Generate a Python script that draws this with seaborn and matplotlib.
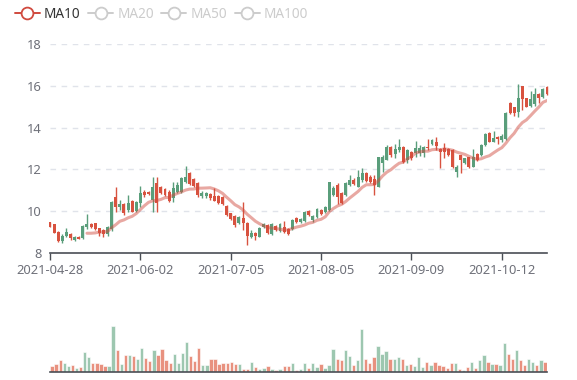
import numpy as np
import pandas as pd
import matplotlib
matplotlib.use('Agg')
import matplotlib.pyplot as plt
import seaborn as sns
from matplotlib.lines import Line2D

# ── DATA ──────────────────────────────────────────────────────
open_ = [9.46, 9.36, 9.01, 8.58, 8.80, 8.88, 8.61, 8.77, 8.69, 9.22,
         9.38, 9.41, 9.17, 9.09, 8.90, 9.12, 10.65, 10.21, 10.34, 10.05,
         10.50, 9.99, 10.37, 10.93, 10.93, 10.53, 11.33, 11.14, 11.05, 10.93,
         10.61, 10.93, 10.93, 11.41, 11.84, 11.52, 11.36, 10.72, 10.72, 10.82,
         10.72, 10.72, 10.69, 10.24, 9.89, 9.76, 9.44, 9.65, 9.44, 8.74,
         8.96, 8.77, 9.22, 9.33, 8.90, 9.28, 9.06, 9.25, 9.12, 9.12,
         9.65, 9.46, 9.54, 10.00, 9.57, 9.70, 10.05, 9.97, 10.05, 10.77,
         11.25, 10.85, 10.77, 11.25, 11.49, 11.17, 11.49, 11.84, 11.65, 11.52,
         11.17, 12.29, 12.45, 13.09, 12.74, 12.93, 13.09, 12.45, 12.85, 12.77,
         12.80, 12.77, 13.09, 13.22, 13.33, 12.98, 13.01, 12.98, 12.93, 11.89,
         12.69, 12.29, 12.58, 12.13, 12.74, 12.69, 13.17, 13.76, 13.33, 13.57,
         13.41, 13.44, 15.20, 14.98, 14.77, 16.00, 15.41, 15.04, 15.12, 15.62,
         15.46, 15.97]
close = [9.25, 8.96, 8.56, 8.80, 9.00, 8.69, 8.74, 8.68, 9.28, 9.38,
         9.25, 9.12, 8.93, 8.90, 9.22, 10.45, 10.21, 10.34, 9.92, 10.40,
         9.97, 10.45, 10.85, 10.77, 10.82, 11.17, 10.37, 10.85, 10.77, 10.50,
         11.09, 11.25, 11.57, 11.65, 11.30, 11.20, 10.77, 10.88, 10.85, 10.61,
         10.50, 10.37, 10.34, 9.81, 9.60, 9.33, 9.70, 9.41, 8.80, 8.96,
         8.80, 9.17, 9.38, 8.93, 9.36, 9.09, 9.38, 9.01, 8.90, 9.57,
         9.49, 9.60, 9.97, 9.79, 9.76, 10.08, 9.86, 10.18, 11.41, 11.09,
         10.69, 10.37, 11.36, 11.49, 11.30, 11.65, 11.81, 11.44, 11.41, 11.25,
         12.58, 12.61, 13.09, 12.69, 12.96, 13.09, 12.37, 12.93, 12.53, 13.01,
         13.01, 13.09, 13.01, 13.41, 13.12, 12.85, 12.85, 12.69, 12.13, 12.13,
         12.45, 12.53, 12.10, 12.58, 12.45, 13.17, 13.70, 13.33, 13.49, 13.44,
         13.60, 14.72, 14.69, 14.69, 15.41, 15.36, 15.01, 15.36, 15.60, 15.44,
         15.86, 15.60]
low = [9.22, 8.93, 8.50, 8.45, 8.77, 8.61, 8.58, 8.64, 8.66, 9.14,
       9.17, 9.09, 8.80, 8.74, 8.80, 9.05, 9.97, 10.05, 9.81, 9.97,
       9.93, 9.95, 10.21, 10.69, 10.77, 9.97, 9.97, 10.80, 10.72, 10.45,
       10.45, 10.85, 10.85, 11.33, 11.25, 11.15, 10.69, 10.61, 10.61, 10.53,
       10.48, 10.33, 10.29, 9.76, 9.55, 9.25, 9.38, 9.09, 8.37, 8.69,
       8.61, 8.74, 9.17, 8.88, 8.85, 9.04, 9.01, 8.93, 8.85, 9.09,
       9.41, 9.41, 9.49, 9.76, 9.49, 9.65, 9.81, 9.92, 10.02, 10.72,
       10.34, 10.33, 10.72, 11.20, 11.25, 11.14, 11.41, 11.41, 11.33, 10.77,
       11.14, 11.89, 12.45, 12.61, 12.53, 12.85, 12.29, 12.29, 12.45, 12.61,
       12.64, 12.61, 12.93, 13.17, 12.93, 12.05, 12.53, 12.64, 12.05, 11.65,
       11.84, 12.25, 12.05, 12.10, 12.40, 12.66, 13.10, 13.30, 13.30, 13.20,
       13.33, 13.41, 14.66, 14.56, 14.50, 14.85, 14.98, 15.01, 15.06, 15.17,
       15.44, 15.57]
high = [9.49, 9.40, 9.03, 8.88, 9.17, 8.96, 8.80, 8.82, 9.33, 9.84,
        9.41, 9.44, 9.20, 9.12, 9.28, 10.47, 11.17, 10.53, 10.37, 10.77,
        10.55, 10.50, 11.20, 11.01, 10.98, 11.65, 11.65, 11.20, 11.10, 11.01,
        11.41, 11.37, 11.65, 12.16, 11.89, 11.57, 11.41, 10.96, 10.93, 10.88,
        11.12, 10.75, 10.72, 10.29, 9.92, 9.80, 9.76, 10.45, 9.49, 9.09,
        9.01, 9.25, 9.41, 9.38, 9.41, 9.33, 9.44, 9.54, 9.17, 9.62,
        9.70, 9.68, 10.00, 10.05, 9.81, 10.13, 10.08, 10.24, 11.41, 11.20,
        11.33, 10.90, 11.41, 11.73, 11.57, 11.97, 12.05, 11.89, 11.73, 11.73,
        12.61, 12.69, 13.17, 13.12, 13.22, 13.44, 13.12, 12.96, 12.90, 13.36,
        13.17, 13.12, 13.44, 13.44, 13.57, 13.01, 13.28, 13.04, 12.98, 12.21,
        12.69, 12.56, 12.61, 12.96, 12.77, 13.20, 13.73, 13.78, 13.86, 13.60,
        13.68, 14.77, 15.23, 15.01, 16.10, 16.02, 15.44, 15.76, 15.90, 15.65,
        15.92, 16.02]
volume = [19, 25, 37, 27, 20, 22, 14, 15, 62, 45, 27, 28, 24, 19, 20, 140,
          67, 26, 52, 52, 49, 39, 72, 42, 34, 67, 52, 69, 37, 29, 55, 29,
          59, 92, 49, 34, 72, 22, 22, 41, 41, 25, 29, 29, 31, 24, 24, 10,
          11, 30, 17, 10, 12, 19, 9, 7, 10, 19, 19, 27, 7, 10,
          29, 13, 29, 16, 26, 12, 21, 71, 40, 36, 67, 50, 21, 36, 131,
          41, 28, 45, 78, 56, 63, 40, 40, 47, 41, 22, 26, 18, 47, 15, 31,
          23, 30, 21, 18, 14, 29, 29, 11, 7, 16, 32, 13, 38, 51, 31, 26,
          26, 22, 89, 56, 41, 66, 36, 23, 41, 31, 21, 38, 31]
tick_pos = [0, 22, 44, 66, 88, 110]
tick_labels = ['2021-04-28', '2021-06-02', '2021-07-05', '2021-08-05',
               '2021-09-09', '2021-10-12']
legend_names = ['MA10', 'MA20', 'MA50', 'MA100']

# ── STYLE ─────────────────────────────────────────────────────
UP, DOWN = '#5a9e7b', '#d8523f'
UP_VOL, DOWN_VOL = '#9dc7b0', '#e8917f'
MA_COLOR = '#d04a3e'
AXIS_COLOR = '#4a4e55'
LABEL_COLOR = '#6e7079'

sns.set_theme(style='white')
plt.rcParams['font.family'] = ['Noto Sans', 'DejaVu Sans']

df = pd.DataFrame({'open': open_, 'close': close, 'low': low,
                   'high': high, 'volume': volume})
df['idx'] = np.arange(len(df))
df['ma10'] = df['close'].rolling(10).mean()
is_up = df['close'] >= df['open']
candle_colors = np.where(is_up, UP, DOWN)
vol_colors = np.where(is_up, UP_VOL, DOWN_VOL)

W, H = 577, 380
fig = plt.figure(figsize=(W / 100, H / 100), dpi=100)
ax = fig.add_axes([50 / W, 1 - 252.7 / H, 497 / W, (252.7 - 44.3) / H])
axv = fig.add_axes([50 / W, 1 - 372.3 / H, 497 / W, 72.3 / H])

# ── CANDLES + MA10 ────────────────────────────────────────────
for y in [10, 12, 14, 16, 18]:
    ax.axhline(y, color='#e0e3ea', lw=1, ls=(0, (4, 4)), zorder=0)

ax.vlines(df['idx'], df['low'], df['high'], colors=candle_colors,
          lw=1, zorder=2, clip_on=False)
body_low = df[['open', 'close']].min(axis=1)
body_h = (df['close'] - df['open']).abs().clip(lower=0.03)
ax.bar(df['idx'], body_h, bottom=body_low, width=0.72,
       color=candle_colors, lw=0, zorder=3, clip_on=False)

sns.lineplot(data=df, x='idx', y='ma10', ax=ax, color=MA_COLOR,
             alpha=0.48, lw=2.2, zorder=4)

ax.set_xlim(0, len(df) - 1)
ax.set_ylim(8, 18)
ax.set_yticks([8, 10, 12, 14, 16, 18])
ax.set_xticks(tick_pos, tick_labels)
ax.set_xlabel('')
ax.set_ylabel('')
for s in ['top', 'right', 'left']:
    ax.spines[s].set_visible(False)
ax.spines['bottom'].set_color(AXIS_COLOR)
ax.spines['bottom'].set_linewidth(1.2)
ax.tick_params(axis='x', length=5, width=1, color=AXIS_COLOR, pad=3,
               labelsize=9.3, labelcolor=LABEL_COLOR, bottom=True)
ax.tick_params(axis='y', length=0, pad=6, labelsize=9.3,
               labelcolor=LABEL_COLOR)

# ── VOLUME ────────────────────────────────────────────────────
axv.bar(df['idx'], df['volume'], width=0.82, color=vol_colors,
        edgecolor='#ffffff', linewidth=0.4)
axv.set_xlim(-0.5, len(df) - 0.5)
axv.set_ylim(0, 140 * 72.3 / 46.7)
axv.set_xticks([])
axv.set_yticks([])
for s in ['top', 'right', 'left']:
    axv.spines[s].set_visible(False)
axv.spines['bottom'].set_color(AXIS_COLOR)
axv.spines['bottom'].set_linewidth(1.2)

# ── LEGEND ────────────────────────────────────────────────────
leg_colors = [MA_COLOR, '#cccccc', '#cccccc', '#cccccc']
handles = [Line2D([0], [0], color=c, lw=1.4, marker='o', markersize=8.5,
                  markerfacecolor='white', markeredgecolor=c,
                  markeredgewidth=1.3) for c in leg_colors]
leg = fig.legend(handles, legend_names, loc='upper left',
                 bbox_to_anchor=(0.004, 1.015), ncol=4, frameon=False,
                 fontsize=9.8, handlelength=1.85, handletextpad=0.3,
                 columnspacing=0.55)
for txt, c in zip(leg.get_texts(), ['#333333', '#cccccc', '#cccccc', '#cccccc']):
    txt.set_color(c)

fig.savefig('out.png', dpi=100)
